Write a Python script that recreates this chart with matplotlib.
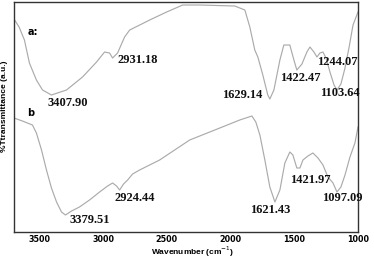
import numpy as np
import matplotlib
matplotlib.use("Agg")
import matplotlib.pyplot as plt

# spectrum a (wavenumber, transmittance a.u.)
wn_a = [3700, 3660, 3618, 3579, 3524, 3476, 3406, 3288, 3162, 3052, 2989, 2950, 2926,
        2887, 2832, 2792, 2635, 2502, 2376, 2242, 1967, 1888, 1849, 1810, 1786,
        1747, 1708, 1692, 1660, 1613, 1582, 1535, 1503, 1480, 1440, 1401, 1377,
        1346, 1322, 1299, 1275, 1251, 1220, 1188, 1165, 1134, 1102, 1071, 1039, 1000]
t_a = [213, 205, 192, 169, 152, 142, 137, 142, 155, 170, 180, 179, 174,
       179, 195, 202, 212, 220, 227, 227, 226, 222, 205, 182, 175,
       157, 137, 133, 142, 172, 187, 187, 172, 162, 168, 180, 185,
       180, 175, 179, 180, 174, 160, 147, 142, 148, 164, 184, 207, 220]

# spectrum b
wn_b = [3700, 3634, 3555, 3524, 3484, 3445, 3406, 3366, 3327, 3296, 3248, 3186,
        3107, 3028, 2965, 2926, 2895, 2871, 2840, 2808, 2769, 2714, 2557, 2321,
        2124, 1928, 1833, 1802, 1770, 1731, 1692, 1652, 1613, 1574, 1535, 1511,
        1480, 1456, 1432, 1393, 1354, 1314, 1275, 1236, 1196, 1165, 1134, 1102,
        1063, 1024, 1000]
t_b = [114, 111, 107, 99, 82, 62, 44, 30, 20, 17, 21, 25,
       32, 40, 46, 49, 46, 42, 48, 52, 58, 62, 72, 92,
       102, 112, 116, 110, 97, 72, 45, 30, 42, 69, 80, 77,
       64, 64, 72, 76, 79, 74, 67, 55, 49, 40, 45, 57,
       75, 89, 105]

# peak labels: text, x, y
labels_a = [("3407.90", 3280, 129), ("2931.18", 2730, 172), ("1629.14", 1912, 137),
            ("1422.47", 1456, 154), ("1244.07", 1165, 170), ("1103.64", 1141, 139)]
labels_b = [("3379.51", 3107, 12), ("2924.44", 2753, 34), ("1621.43", 1692, 22),
            ("1421.97", 1377, 52), ("1097.09", 1126, 34)]

fig = plt.figure(figsize=(3.74, 2.58), dpi=100)
ax = fig.add_axes([0.0374, 0.1008, 0.9198, 0.8914])

ax.plot(wn_a, t_a, color="#ababab", lw=0.85)
ax.plot(wn_b, t_b, color="#ababab", lw=0.85)

for txt, x, y in labels_a + labels_b:
    ax.text(x, y, txt, ha="center", va="center", fontsize=9, fontweight="bold",
            family="Liberation Serif", color="#111111")

ax.text(3555, 200, "a:", ha="center", va="center", fontsize=7, fontweight="bold",
        family="DejaVu Sans")
ax.text(3571, 119, "b", ha="center", va="center", fontsize=7, fontweight="bold",
        family="DejaVu Sans")

ax.set_xlim(3700, 1000)
ax.set_ylim(0, 230)
ax.set_xticks([3500, 3000, 2500, 2000, 1500, 1000])
ax.set_yticks([])
ax.tick_params(axis="x", length=0, pad=2.5)
for lab in ax.get_xticklabels():
    lab.set_fontsize(5.8)
    lab.set_fontweight("bold")
    lab.set_family("DejaVu Sans")

for s in ax.spines.values():
    s.set_color("#333333")
    s.set_linewidth(1.0)

fig.text(0.516, 6 / 258, "Wavenumber (cm$^{-1}$)", ha="center", va="center",
         fontsize=6, fontweight="bold", family="Liberation Sans")
fig.text(0.013, 0.59, "%Ttransmittance (a.u.)", rotation=90, ha="center", va="center",
         fontsize=6, fontweight="bold", family="Liberation Sans")

fig.savefig("out.png", dpi=100)
